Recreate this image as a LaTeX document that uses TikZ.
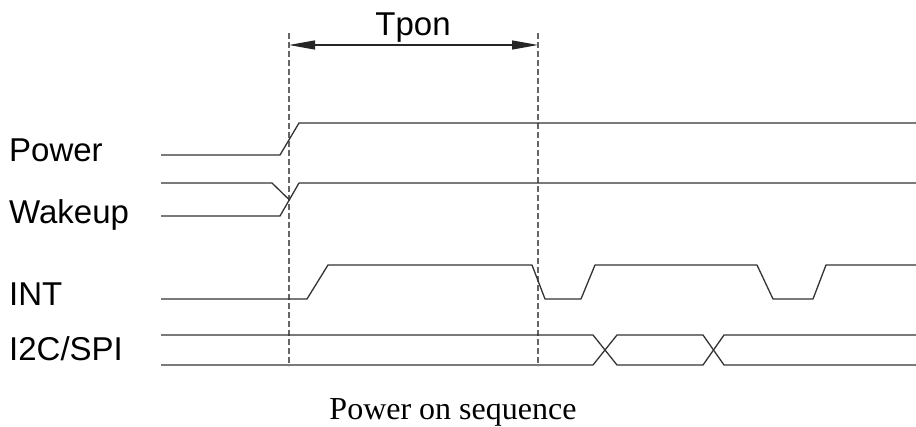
\documentclass[tikz,border=0pt]{standalone}
\usepackage{fontspec}
\setmainfont{Liberation Serif}
\newfontfamily\labfont{Liberation Sans}
\usetikzlibrary{arrows.meta}
\begin{document}
\begin{tikzpicture}[x=1pt,y=-1pt,
  sig/.style={line width=1.3pt,color=black!80,line join=round},
  guide/.style={line width=1.4pt,color=black!60,dash pattern=on 5.5pt off 3.5pt},
  lab/.style={anchor=base west,inner sep=0pt,font=\labfont\fontsize{33}{38}\selectfont},
  captext/.style={anchor=base,inner sep=0pt,font=\fontsize{32}{38}\selectfont},
  dimline/.style={line width=1.2pt,color=black!85,{Triangle[length=26pt,width=9pt]}-{Triangle[length=26pt,width=9pt]}}]
\useasboundingbox (0,0) rectangle (916,426);
% labels
\node[lab] (lpower) at (9,161) {Power};
\node[lab] (lwake) at (9,223) {Wakeup};
\node[lab] (lint) at (9,305) {INT};
\node[lab] (li2c) at (9,360) {I2C/SPI};
\node[captext,font=\labfont\fontsize{33}{38}\selectfont] (tpon) at (413,35) {Tpon};
\node[captext] (caption) at (453,419) {Power on sequence};
% guides
\coordinate (g1t) at (289,33); \coordinate (g1b) at (289,366);
\coordinate (g2t) at (538,33); \coordinate (g2b) at (538,366);
\draw[guide] (g1t) -- (g1b);
\draw[guide] (g2t) -- (g2b);
\coordinate (a1) at (289,45); \coordinate (a2) at (538,45);
\draw[dimline] (a1) -- (a2);
% Power
\draw[sig] (161,155) -- (280,155) -- (299,123) -- (916,123);
% Wakeup
\draw[sig] (161,183) -- (272,183) -- (289.5,200);
\draw[sig] (161,216) -- (280,216) -- (299,183) -- (916,183);
% INT
\draw[sig] (161,299) -- (307,299) -- (328,265) -- (532,265) -- (545,299) -- (581,299) -- (595,265) -- (757,265) -- (773,299) -- (813,299) -- (826,265) -- (916,265);
% I2C/SPI
\draw[sig] (161,335) -- (593,335) -- (617,365) -- (703,365) -- (724,335) -- (916,335);
\draw[sig] (161,365) -- (593,365) -- (617,335) -- (703,335) -- (724,365) -- (916,365);
\end{tikzpicture}
\end{document}
